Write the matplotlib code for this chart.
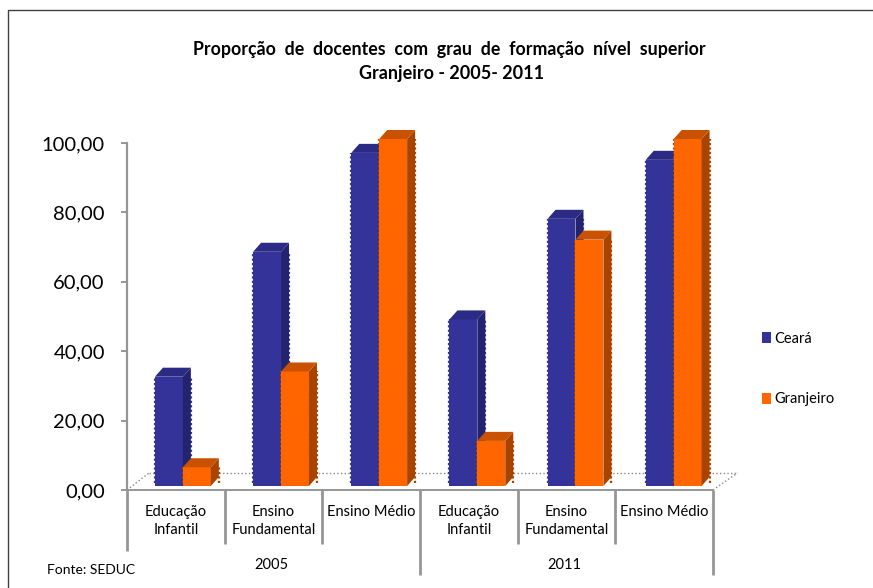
import matplotlib
matplotlib.use('Agg')
import matplotlib.pyplot as plt
from matplotlib.patches import Polygon, Patch
from matplotlib.lines import Line2D

plt.rcParams['font.family'] = ['Lato', 'DejaVu Sans']

categories = ['Educação\nInfantil', 'Ensino\nFundamental', 'Ensino Médio',
              'Educação\nInfantil', 'Ensino\nFundamental', 'Ensino Médio']
years = ['2005', '2011']
ceara = [31.5, 67.5, 96.0, 48.0, 77.0, 94.0]
granjeiro = [5.4, 33.0, 100.0, 13.0, 71.0, 100.0]
yticks = [0, 20, 40, 60, 80, 100]
ytick_labels = ['0,00', '20,00', '40,00', '60,00', '80,00', '100,00']

W, H = 873, 588
GREY = '#969696'
# front, side, top of the fake 3D bars
BLUE = ('#333399', '#232370', '#2b2b85')
ORANGE = ('#FF6600', '#A84400', '#C85200')

fig = plt.figure(figsize=(W / 100, H / 100), dpi=100)
ax = fig.add_axes([127 / W, (H - 490) / H, 586 / W, 347 / H])
ax.set_xlim(0, 6)
ax.set_ylim(0, 100)

bar_w = 0.286
offset = 0.286
step = 1.005     # bars drift slightly against the separators in the original
floor = 1.15     # bars stand a little in front of the axis
dx, dy = 0.082, 2.6


def bar3d(x, val, cols, z):
    top = floor + val
    ax.bar(x, val, bar_w, bottom=floor, align='edge', color=cols[0], zorder=z,
           clip_on=False, linewidth=0)
    ax.add_patch(Polygon([(x + bar_w, floor), (x + bar_w + dx, floor + dy),
                          (x + bar_w + dx, top + dy), (x + bar_w, top)],
                         fc=cols[1], lw=0, zorder=z, clip_on=False))
    ax.add_patch(Polygon([(x, top), (x + dx, top + dy),
                          (x + bar_w + dx, top + dy), (x + bar_w, top)],
                         fc=cols[2], lw=0, zorder=z, clip_on=False))
    # jagged edges from the low-res original
    ax.vlines([x, x + bar_w + dx], floor + 1, top, color=cols[0] if cols is BLUE else cols[1],
              lw=1.6, ls=(0, (1, 1)), zorder=z - 0.1, clip_on=False)


for i in range(6):
    bar3d(i * step + offset, ceara[i], BLUE, 3 + 2 * i)
    bar3d(i * step + offset + bar_w, granjeiro[i], ORANGE, 4 + 2 * i)

# floor of the 3D box
ax.plot([0.225, 6.25], [4.9, 4.9], color='#888888', lw=1, ls=':', zorder=1, clip_on=False)
ax.plot([0, 0.225], [0, 4.9], color='#888888', lw=1, ls=':', zorder=1, clip_on=False)
ax.plot([6, 6.25], [0, 4.9], color='#888888', lw=1, ls=':', zorder=1, clip_on=False)

for s in ['top', 'right']:
    ax.spines[s].set_visible(False)
for s in ['left', 'bottom']:
    ax.spines[s].set_color(GREY)
ax.spines['left'].set_linewidth(1.6)
ax.spines['bottom'].set_linewidth(1.4)
ax.set_xticks([])
ax.set_yticks(yticks)
ax.set_yticklabels(ytick_labels, fontsize=14.5, color='black')
ax.tick_params(axis='y', length=4, width=1.4, color=GREY, pad=12)

# category separators below the axis
ax.vlines([1, 2, 4, 5], -15.7, 0, color=GREY, lw=2, clip_on=False)
ax.vlines([0], -17.5, 0, color=GREY, lw=2, clip_on=False)
ax.vlines([3, 6], -24.5, 0, color=GREY, lw=2, clip_on=False)

for i, c in enumerate(categories):
    ax.text(i + 0.5, -4.2, c, ha='center', va='top', fontsize=10.5, linespacing=1.4,
            clip_on=False)
ax.text(1.48, -21.6, years[0], ha='center', va='center', fontsize=10.5)
ax.text(4.48, -21.6, years[1], ha='center', va='center', fontsize=10.5)

# title, source and outer frame
fig.text(449 / W, 1 - 50 / H, 'Proporção  de  docentes  com  grau  de  formação  nível  superior',
         ha='center', va='center', fontsize=12.8, fontweight='bold')
fig.text(452 / W, 1 - 74 / H, 'Granjeiro - 2005- 2011',
         ha='center', va='center', fontsize=13, fontweight='bold')
fig.text(47 / W, 1 - 570 / H, 'Fonte: SEDUC', ha='left', va='center', fontsize=10)

fig.add_artist(Line2D([8 / W, 8 / W, 1], [0, 1 - 10 / H, 1 - 10 / H], color='#404040', lw=1))

handles = [Patch(fc=BLUE[0], label='Ceará'), Patch(fc=ORANGE[0], label='Granjeiro')]
fig.legend(handles=handles, loc='center left', bbox_to_anchor=(762 / W, 1 - 369 / H),
           frameon=False, fontsize=10.5, handlelength=0.6, handleheight=0.75,
           handletextpad=0.25, labelspacing=3.2, borderpad=0, borderaxespad=0)

fig.savefig('out.png', dpi=100)
